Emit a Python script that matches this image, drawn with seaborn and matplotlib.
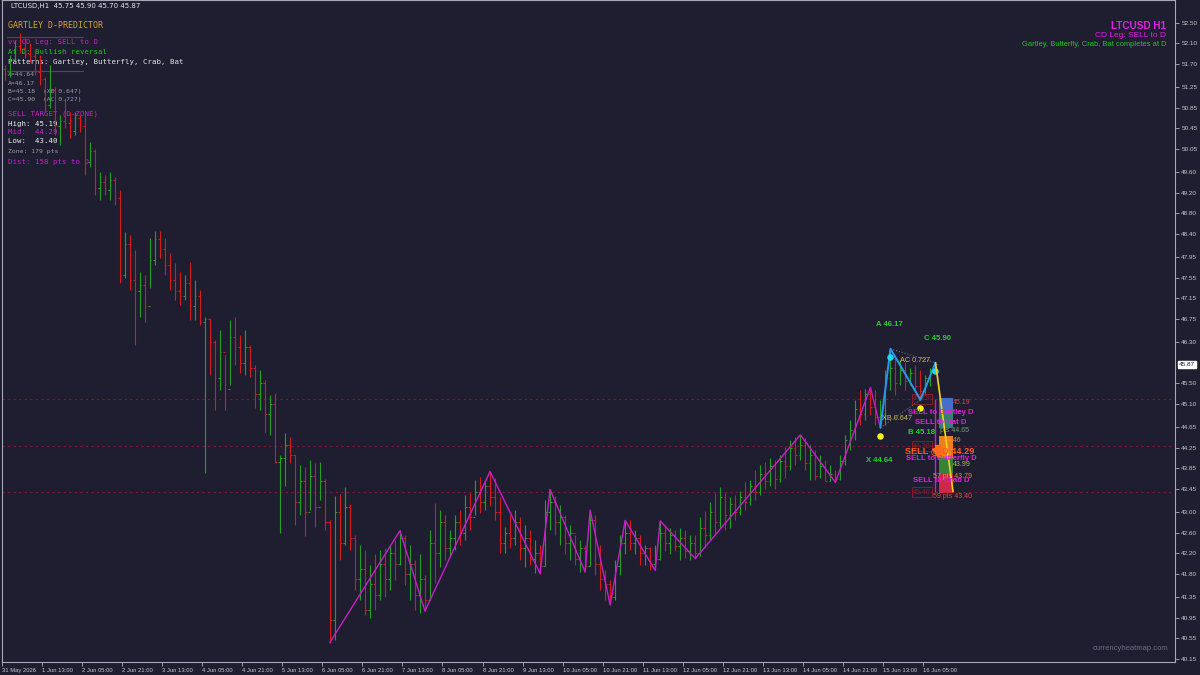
import numpy as np
import pandas as pd
import matplotlib
matplotlib.use("Agg")
import matplotlib.pyplot as plt
from matplotlib.lines import Line2D
import seaborn as sns

# LTCUSD H1, bars read off the chart and grouped by 2 hours
# time axis = hours after 31 May 2026 21:00
first_open = 51.60
high = [
    51.68, 51.87, 52.16, 52.30, 52.20, 52.11, 51.97, 51.87, 51.45, 51.68,
    51.25, 50.71, 51.04, 50.77, 50.77, 50.71, 50.77, 50.19, 50.05, 49.60,
    49.54, 49.60, 49.50, 49.25, 48.44, 48.38, 48.09, 47.66, 47.60, 48.33,
    48.46, 48.46, 48.33, 48.03, 47.83, 47.66, 47.60, 47.85, 47.50, 47.31,
    46.79, 46.77, 46.34, 46.54, 46.05, 46.72, 46.79, 46.44, 46.54, 46.25,
    45.85, 45.76, 45.56, 45.27, 45.31, 44.10, 44.54, 44.46, 44.11, 43.91,
    43.87, 44.01, 43.95, 43.97, 43.65, 42.85, 43.32, 43.36, 43.48, 43.15,
    42.56, 42.37, 42.27, 41.98, 42.18, 42.27, 42.31, 42.37, 42.46, 42.65,
    42.55, 42.37, 42.08, 42.18, 41.78, 42.66, 43.18, 43.05, 42.95, 42.66,
    42.95, 43.05, 43.34, 43.38, 43.63, 43.69, 43.63, 43.79, 43.66, 43.29,
    42.71, 42.95, 43.05, 42.90, 42.76, 42.66, 42.46, 42.37, 43.24, 43.45,
    43.32, 43.13, 42.95, 42.76, 42.55, 42.46, 42.37, 43.04, 42.95, 42.37,
    41.88, 41.68, 42.08, 42.55, 42.84, 42.84, 42.66, 42.55, 42.37, 42.32,
    42.37, 42.83, 42.76, 42.70, 42.66, 42.70, 42.66, 42.55, 42.55, 42.90,
    43.03, 43.19, 43.38, 43.48, 43.38, 43.29, 43.34, 43.42, 43.58, 43.62,
    43.81, 43.91, 43.97, 44.05, 44.01, 44.11, 44.26, 44.40, 44.45, 44.50,
    44.44, 44.30, 44.21, 44.11, 44.01, 43.91, 43.82, 44.11, 44.50, 44.79,
    45.18, 45.37, 45.40, 45.42, 45.37, 45.18, 45.76, 46.17, 46.05, 45.95,
    45.91, 45.80, 45.86, 45.76, 45.66, 45.80, 45.90,
]
low = [
    51.39, 51.45, 51.78, 51.91, 51.82, 51.74, 51.49, 51.29, 50.77, 50.85,
    50.32, 50.13, 50.46, 50.26, 50.32, 50.38, 49.54, 49.69, 49.15, 49.06,
    49.15, 49.06, 48.96, 47.45, 47.55, 47.31, 46.24, 46.79, 46.69, 47.35,
    47.80, 47.94, 47.60, 47.31, 47.12, 47.03, 47.12, 46.73, 46.73, 46.63,
    43.76, 45.67, 44.98, 45.37, 44.98, 45.47, 45.86, 45.70, 45.67, 45.62,
    45.02, 44.98, 44.54, 44.49, 43.95, 42.59, 43.50, 43.95, 42.76, 42.95,
    42.53, 43.05, 42.72, 43.24, 42.66, 40.47, 40.51, 42.08, 42.37, 42.27,
    41.49, 41.30, 41.00, 40.95, 41.11, 41.30, 41.36, 41.49, 41.69, 41.98,
    41.59, 41.30, 41.11, 41.05, 41.08, 41.30, 41.63, 41.94, 42.08, 42.14,
    42.27, 42.37, 42.46, 42.66, 42.95, 42.99, 43.05, 43.11, 42.85, 42.20,
    42.20, 42.31, 42.37, 42.08, 41.94, 41.98, 41.81, 41.80, 41.95, 42.66,
    42.55, 42.37, 42.18, 42.08, 41.98, 41.84, 41.84, 41.95, 41.78, 41.49,
    41.30, 41.20, 41.30, 41.78, 42.18, 42.27, 42.18, 41.98, 41.98, 41.88,
    41.87, 42.08, 42.24, 42.18, 42.24, 42.08, 42.12, 42.08, 42.10, 42.14,
    42.31, 42.46, 42.55, 42.70, 42.66, 42.70, 42.85, 42.95, 43.05, 43.14,
    43.24, 43.34, 43.44, 43.50, 43.44, 43.58, 43.67, 43.82, 43.91, 44.01,
    43.82, 43.63, 43.62, 43.67, 43.60, 43.60, 43.58, 43.63, 43.91, 44.21,
    44.40, 44.69, 44.79, 44.88, 44.69, 44.64, 44.69, 45.37, 45.27, 45.47,
    45.37, 45.47, 45.33, 45.18, 45.27, 45.45, 45.70,
]
close = [
    51.50, 51.80, 52.05, 52.00, 51.90, 51.85, 51.55, 51.40, 50.90, 51.20,
    50.50, 50.60, 50.55, 50.40, 50.65, 50.50, 49.80, 50.00, 49.30, 49.40,
    49.25, 49.45, 49.10, 47.60, 48.20, 47.50, 47.30, 47.40, 47.00, 47.90,
    48.30, 48.10, 47.80, 47.50, 47.30, 47.20, 47.45, 47.00, 47.20, 46.70,
    46.75, 46.30, 45.60, 46.10, 45.40, 46.40, 46.20, 45.90, 46.20, 45.80,
    45.30, 45.50, 44.90, 45.10, 43.98, 44.05, 44.30, 44.10, 43.20, 43.60,
    43.00, 43.70, 43.10, 43.60, 42.80, 40.90, 43.00, 42.40, 43.10, 42.50,
    41.70, 41.90, 41.10, 41.60, 41.40, 42.00, 41.70, 42.20, 42.00, 42.50,
    41.80, 42.00, 41.40, 41.70, 41.30, 42.40, 42.20, 42.80, 42.30, 42.50,
    42.80, 42.60, 43.10, 42.90, 43.40, 43.20, 43.50, 43.30, 43.00, 42.40,
    42.60, 42.50, 42.80, 42.30, 42.50, 42.10, 42.20, 41.95, 43.00, 43.20,
    42.80, 42.90, 42.40, 42.60, 42.10, 42.30, 41.95, 42.85, 42.00, 41.70,
    41.60, 41.35, 41.95, 42.40, 42.60, 42.40, 42.50, 42.20, 42.30, 42.00,
    42.10, 42.60, 42.40, 42.55, 42.35, 42.50, 42.25, 42.40, 42.20, 42.70,
    42.55, 43.00, 42.80, 43.30, 42.95, 43.15, 43.00, 43.30, 43.20, 43.50,
    43.40, 43.75, 43.60, 43.90, 43.65, 44.00, 43.90, 44.25, 44.10, 44.30,
    43.95, 44.10, 43.70, 43.90, 43.60, 43.75, 43.65, 44.00, 44.40, 44.60,
    45.00, 44.90, 45.30, 45.05, 44.85, 44.90, 45.60, 45.80, 45.50, 45.75,
    45.55, 45.70, 45.45, 45.35, 45.60, 45.75, 45.87,
]

# zigzag pivots (hour, price)
zz_hour = [131, 159, 169, 195, 215, 219, 233, 235, 243, 249, 261, 263, 277, 319, 333, 347, 351]
zz_price = [40.47, 42.64, 41.08, 43.79, 41.81, 43.44, 41.84, 43.04, 41.20, 42.84,
            41.87, 42.83, 42.10, 44.50, 43.58, 45.42, 44.64]

# X, A, B, C of the pattern and the projected D
pat_names = ["X", "A", "B", "C"]
pat_hour = [351, 355, 367, 373]
pat_price = [44.64, 46.17, 45.18, 45.90]
d_hour = 380
d_price = 43.40

# pivot markers
cyan_hour = [355, 373]
cyan_price = [46.02, 45.74]
yellow_hour = [351, 367]
yellow_price = [44.48, 45.02]

# sell target levels and per-pattern D zones
target_levels = [45.19, 44.29, 43.40]
zone_top = [45.22, 44.98, 44.47, 44.06, 43.76]
zone_bottom = [44.98, 44.63, 44.06, 43.76, 43.38]
zone_colors = ["#4a78dc", "#3a8a78", "#ff8c1a", "#3c8f34", "#e3294d"]

# axes ticks
ytick_vals = [52.50, 52.10, 51.70, 51.25, 50.85, 50.45, 50.05, 49.60, 49.20, 48.80,
              48.40, 47.95, 47.55, 47.15, 46.75, 46.30, 45.50, 45.10, 44.65, 44.25,
              43.85, 43.45, 43.00, 42.60, 42.20, 41.80, 41.35, 40.95, 40.55, 40.15]
xtick_hours = [0, 16, 32, 48, 64, 80, 96, 112, 128, 144, 160, 176, 192, 208, 224,
               240, 256, 272, 288, 304, 320, 336, 352, 368]
xtick_labels = ["31 May 2026", "1 Jun 13:00", "2 Jun 05:00", "2 Jun 21:00", "3 Jun 13:00",
                "4 Jun 05:00", "4 Jun 21:00", "5 Jun 13:00", "6 Jun 05:00", "6 Jun 21:00",
                "7 Jun 13:00", "8 Jun 05:00", "8 Jun 21:00", "9 Jun 13:00", "10 Jun 05:00",
                "10 Jun 21:00", "11 Jun 13:00", "12 Jun 05:00", "12 Jun 21:00", "13 Jun 13:00",
                "14 Jun 05:00", "14 Jun 21:00", "15 Jun 13:00", "16 Jun 05:00"]

BG = "#1e1e30"
sns.set_style("dark", {"axes.facecolor": BG, "figure.facecolor": BG})
plt.rcParams["font.family"] = ["DejaVu Sans"]
sans = ["Liberation Sans", "DejaVu Sans"]
mono = ["DejaVu Sans Mono"]

df = pd.DataFrame({"high": high, "low": low, "close": close})
df["hour"] = np.arange(len(df)) * 2 + 1
df["open"] = np.r_[first_open, df["close"].values[:-1]]
df["up"] = df["close"] >= df["open"]

fig = plt.figure(figsize=(12, 6.75), dpi=100)
ax = fig.add_axes([2 / 1200, 13 / 675, 1173 / 1200, 662 / 675])
ax.set_xlim(0.3, 468.7)
ax.set_ylim(40.092, 52.94)


def fx(x):
    return x / 1200


def fy(y):
    return 1 - y / 675


# OHLC bars
cols = np.where(df["up"], "#22a022", "#d41c1c")
ax.vlines(df["hour"], df["low"], df["high"], colors=cols, lw=0.8, zorder=3)
ax.hlines(df["open"], df["hour"] - 0.7, df["hour"], colors=cols, lw=0.8, zorder=3)
ax.hlines(df["close"], df["hour"], df["hour"] + 0.7, colors=cols, lw=0.8, zorder=3)

# target levels
for lv in target_levels:
    ax.axhline(lv, color="#7e1c2a", ls=(0, (2, 3)), lw=0.8, zorder=2)

# zigzag and pattern legs
sns.lineplot(x=zz_hour, y=zz_price, sort=False, estimator=None, color="#c81ec8",
             lw=1.0, ax=ax, zorder=4)
sns.lineplot(x=pat_hour, y=pat_price, sort=False, estimator=None, color="#2a98f0",
             lw=1.4, ax=ax, zorder=5)
sns.lineplot(x=[pat_hour[3], d_hour], y=[pat_price[3], d_price], sort=False,
             estimator=None, color="#f2d21e", lw=1.2, ax=ax, zorder=7)
ax.plot([pat_hour[0], pat_hour[2]], [pat_price[0], pat_price[2]], ls=":", color="#6c6c80", lw=0.8, zorder=4)
ax.plot([pat_hour[1], pat_hour[3]], [pat_price[1], pat_price[3]], ls=":", color="#6c6c80", lw=0.8, zorder=4)

sns.scatterplot(x=cyan_hour, y=cyan_price, color="#19d9f2", s=22, linewidth=0, ax=ax, zorder=6)
sns.scatterplot(x=yellow_hour, y=yellow_price, color="#f5f51a", s=22, linewidth=0, ax=ax, zorder=6)

# D zones
zone_x0, zone_x1 = 374.4, 380.0
ax.bar([(zone_x0 + zone_x1) / 2] * len(zone_top), np.subtract(zone_top, zone_bottom),
       bottom=zone_bottom, width=zone_x1 - zone_x0, color=zone_colors, alpha=0.9,
       linewidth=0, zorder=5)
ax.vlines(372.9, target_levels[2], target_levels[0], color="#c81ec8", lw=1.0, zorder=5)

# axes look
for s in ax.spines.values():
    s.set_visible(True)
    s.set_color("#a8a8b4")
    s.set_linewidth(0.8)
ax.yaxis.tick_right()
ax.set_yticks(ytick_vals)
ax.set_yticklabels([f"{v:.2f}" for v in ytick_vals], fontsize=4.6, family=sans)
ax.set_xticks(xtick_hours)
ax.set_xticklabels(xtick_labels, fontsize=4.2, family=sans, ha="left")
ax.tick_params(axis="y", direction="out", length=3, width=0.6, pad=1.5, colors="#b0b0b8",
               labelcolor="#c8c8cc", right=True, left=False)
ax.tick_params(axis="x", direction="out", length=3, width=0.6, pad=1.5, colors="#b0b0b8",
               labelcolor="#c8c8cc", bottom=True)
ax.grid(False)
ax.set_xlabel("")
ax.set_ylabel("")

ax.annotate("45.87", xy=(1.0, 45.87), xycoords=("axes fraction", "data"), xytext=(3, 0),
            textcoords="offset points", ha="left", va="center", fontsize=4.6, family=sans,
            color=BG, bbox=dict(boxstyle="square,pad=0.2", fc="white", ec="white"))

# header
fig.text(fx(11), fy(6), "LTCUSD,H1  45.75 45.90 45.70 45.87", fontsize=5, color="#e6e6e6", va="center")

# info panel (drawn under the bars)
panel = [
    (26, "GARTLEY D-PREDICTOR", "#d4a72c", 6.0),
    (42, "vv CD Leg: SELL to D", "#c81ec8", 5.3),
    (52.3, "At D: Bullish reversal", "#1ec81e", 5.3),
    (62.3, "Patterns: Gartley, Butterfly, Crab, Bat", "#e6e6e6", 5.3),
    (74.7, "X=44.64", "#9c9ca6", 4.6),
    (83.3, "A=46.17", "#9c9ca6", 4.6),
    (91.7, "B=45.18  (XB 0.647)", "#9c9ca6", 4.6),
    (100, "C=45.90  (AC 0.727)", "#9c9ca6", 4.6),
    (114, "SELL TARGET (D-ZONE)", "#c81ec8", 5.3),
    (124, "High: 45.19", "#f0f0f0", 5.3),
    (132.3, "Mid:  44.29", "#c81ec8", 5.3),
    (141.3, "Low:  43.40", "#f0f0f0", 5.3),
    (151, "Zone: 179 pts", "#9c9ca6", 4.6),
    (161.7, "Dist: 158 pts to D", "#c81ec8", 5.3),
]
for y, txt, c, fs in panel:
    ax.text(fx(8), fy(y), txt, transform=fig.transFigure, family=mono, fontsize=fs,
            color=c, va="center", ha="left", zorder=1)
for y in [36.7, 71]:
    ax.add_line(Line2D([fx(7), fx(83)], [fy(y), fy(y)], transform=fig.transFigure,
                       color="#4a4a5c", lw=0.8, zorder=1))

# top right info
fig.text(fx(1166), fy(25.7), "LTCUSD H1", family=sans, fontsize=7.2, weight="bold",
         color="#e41ee4", ha="right", va="center")
fig.text(fx(1166), fy(35.7), "CD Leg: SELL to D", family=sans, fontsize=6,
         color="#e41ee4", ha="right", va="center")
fig.text(fx(1166), fy(44.3), "Gartley, Butterfly, Crab, Bat completes at D", family=sans,
         fontsize=5.4, color="#22c822", ha="right", va="center")

# pattern labels
green = "#2ad02a"
for x, y, txt in [(889.5, 325, "A 46.17"), (937, 338, "C 45.90"),
                  (879, 461, "X 44.64"), (922, 433, "B 45.18")]:
    fig.text(fx(x), fy(y), txt, family=sans, fontsize=5.6, weight="bold", color=green,
             ha="center", va="center")
for x, y, txt in [(897, 418, "XB 0.647"), (915, 360, "AC 0.727")]:
    fig.text(fx(x), fy(y), txt, family=sans, fontsize=5.2, color="#cfc25a",
             ha="center", va="center")

# dark red boxed target labels
for y, txt in [(399, "45.19"), (446, "44.29"), (492, "43.40")]:
    ax.text(fx(922), fy(y), txt, transform=fig.transFigure, family=sans, fontsize=5,
            color="#8a1c28", ha="center", va="center", zorder=4,
            bbox=dict(boxstyle="square,pad=0.15", fc="none", ec="#8a1c28", lw=0.7))

# zone price labels
ax.text(fx(944), fy(441), "44.46", transform=fig.transFigure, family=sans, fontsize=5,
        color="#e08a3a", ha="left", va="center", zorder=4)
for x, y, txt, c in [(953, 403, "45.19", "#d04860"), (940, 431, "pts 44.65", "#70a070"),
                     (953, 465, "43.99", "#a8c048"), (933, 476, "57 pts 43.79", "#d89040"),
                     (933, 497, "59 pts 43.40", "#e04848")]:
    ax.text(fx(x), fy(y), txt, transform=fig.transFigure, family=sans, fontsize=5,
            color=c, ha="left", va="center", zorder=6)

# sell labels
for y, txt in [(413, "SELL to Gartley D"), (423, "SELL to Bat D"),
               (459, "SELL to Butterfly D"), (481, "SELL to Crab D")]:
    ax.text(fx(941), fy(y), txt, transform=fig.transFigure, family=sans, fontsize=5.6,
            weight="bold", color="#e01ee0", ha="center", va="center", zorder=8)
ax.text(fx(940), fy(451), "SELL @ D 44.29", transform=fig.transFigure, family=sans,
        fontsize=6.6, weight="bold", color="#ff5a1e", ha="center", va="center", zorder=8)
ax.annotate("", xy=(fx(938), fy(461)), xytext=(fx(938), fy(442)), xycoords="figure fraction",
            arrowprops=dict(arrowstyle="simple,head_width=0.9,head_length=0.7,tail_width=0.45",
                            color="#ff6a1a", lw=0), zorder=9)

fig.text(fx(1168), fy(648), "currencyheatmap.com", family=sans, fontsize=5.5,
         color="#6c6c84", ha="right", va="center")

fig.savefig("out.png", dpi=100, facecolor=BG)
